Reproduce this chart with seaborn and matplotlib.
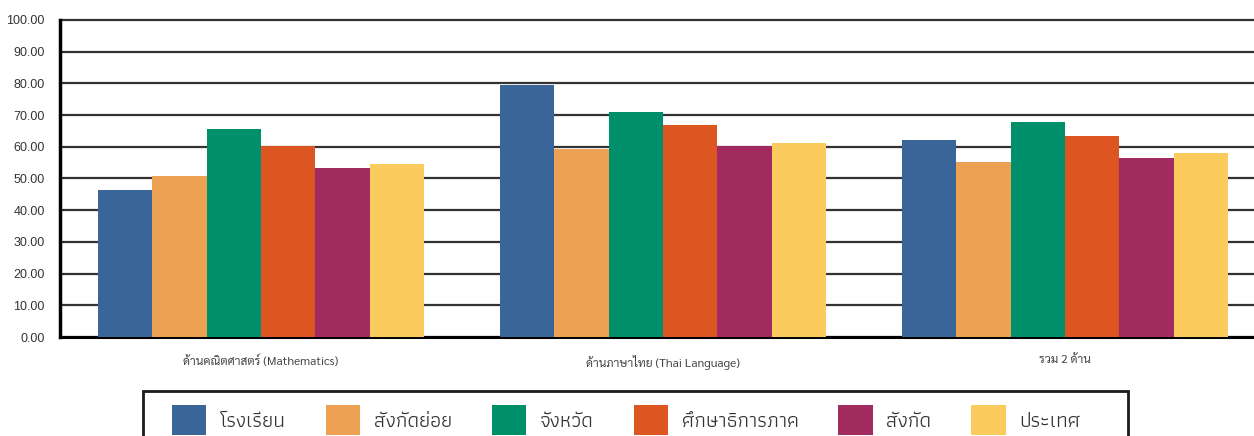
import matplotlib
matplotlib.use("Agg")
import matplotlib.pyplot as plt
from matplotlib import font_manager
from matplotlib.ft2font import FT2Font
from matplotlib.patches import Patch, Rectangle
import seaborn as sns
import pandas as pd

# ---------------- data ----------------
groups = ["ด้านคณิตศาสตร์ (Mathematics)", "ด้านภาษาไทย (Thai Language)", "รวม 2 ด้าน"]
series = ["โรงเรียน", "สังกัดย่อย", "จังหวัด", "ศึกษาธิการภาค", "สังกัด", "ประเทศ"]
school = [46.3, 79.5, 62.3]
sub_affil = [50.7, 59.2, 55.3]
province = [65.5, 71.1, 67.9]
region = [60.2, 66.8, 63.5]
affil = [53.4, 60.4, 56.6]
country = [54.5, 61.3, 57.9]
yticks = [0, 10, 20, 30, 40, 50, 60, 70, 80, 90, 100]
colors = ["#3A6598", "#EDA253", "#008F6B", "#DD5622", "#A12A5F", "#FBCB5D"]

# ---------------- find Thai-capable fonts ----------------
thai_fams = []
for path in font_manager.findSystemFonts():
    try:
        f = FT2Font(path)
        cm = f.get_charmap()
        if 0x0E42 in cm and 0x0E23 in cm and 0x0E35 in cm:
            try:
                font_manager.fontManager.addfont(path)
            except Exception:
                pass
            thai_fams.append(f.family_name)
    except Exception:
        pass
thai_fams = list(dict.fromkeys(thai_fams))


def pick(prefs):
    for p in prefs:
        if p in thai_fams:
            return p
    good = [f for f in thai_fams if "Unifont" not in f]
    return good[0] if good else "DejaVu Sans"


body_font = pick(["Sarabun", "Noto Sans Thai", "IBM Plex Sans Thai", "Kanit"])
legend_font = pick(["Athiti", "IBM Plex Sans Thai Looped", "Sarabun"])

sns.set_theme(style="white")
plt.rcParams["font.family"] = [body_font, "DejaVu Sans"]

values = [school, sub_affil, province, region, affil, country]
rows = []
for s, vals in zip(series, values):
    for g, v in zip(groups, vals):
        rows.append({"group": g, "series": s, "value": v})
df = pd.DataFrame(rows)

W, H = 1254, 436
fig = plt.figure(figsize=(W / 100, H / 100), dpi=100)
ax = fig.add_axes([60 / W, (H - 337) / H, 1206 / W, 317 / H])

sns.barplot(data=df, x="group", y="value", hue="series", hue_order=series,
            order=groups, palette=colors, saturation=1, width=0.81, gap=0,
            ax=ax, legend=False, zorder=3, linewidth=0)

ax.set_ylim(0, 100)
ax.set_xlim(-0.5, 2.5)
ax.set_yticks(yticks)
ax.set_yticklabels([f"{t:.2f}" for t in yticks], fontsize=9, color="#333333",
                   family=["Liberation Sans", "DejaVu Sans"])
ax.set_xlabel("")
ax.set_ylabel("")
ax.tick_params(axis="y", length=0, pad=11)
ax.tick_params(axis="x", length=0, pad=13, labelsize=8.6, labelcolor="#444444")
ax.yaxis.grid(True, color="#333333", linewidth=1.6, zorder=0)
ax.set_axisbelow(True)
for gl in ax.get_ygridlines():
    gl.set_clip_on(False)
for side in ["top", "right"]:
    ax.spines[side].set_visible(False)
ax.spines["left"].set_color("black")
ax.spines["left"].set_linewidth(2.5)
ax.spines["bottom"].set_color("black")
ax.spines["bottom"].set_linewidth(2.2)

# legend frame (runs past the bottom edge, as in the reference)
fig.add_artist(Rectangle((143 / W, 1 - 455 / H), (1128 - 143) / W, 64 / H,
                         transform=fig.transFigure, facecolor="none",
                         edgecolor="#1a1a1a", linewidth=2, zorder=5))

handles = [Patch(facecolor=c, edgecolor="none") for c in colors]
leg = fig.legend(handles, series, ncol=6, loc="center left",
                 bbox_to_anchor=(172 / W, 1 - 420 / H),
                 frameon=False,
                 prop={"family": [legend_font, "DejaVu Sans"], "size": 15},
                 handlelength=1.65, handleheight=1.9,
                 handletextpad=0.65, columnspacing=1.92,
                 borderpad=0, borderaxespad=0)
for t in leg.get_texts():
    t.set_color("#333333")

fig.savefig("out.png", dpi=100)
